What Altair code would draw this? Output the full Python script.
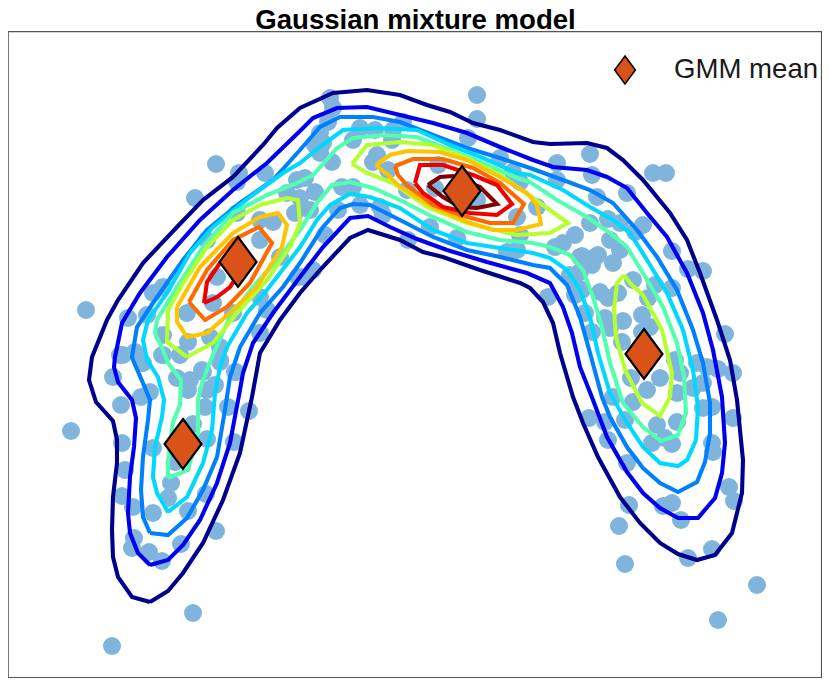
import altair as alt
import pandas as pd

title_text = "Gaussian mixture model"
legend_text = "GMM mean"

points = [
(477,95),(477,119),(216,164),(239,173),(237,182),(265,173),(195,198),(86,310),(287,193),(295,213),(273,222),(260,220),
(237,213),(207,240),(260,240),(280,257),(217,277),(213,303),(267,310),(260,297),(260,333),(233,313),(210,337),(220,347),
(187,313),(163,287),(153,293),(128,318),(147,315),(163,335),(188,342),(163,355),(180,355),(120,355),(135,352),(143,363),
(113,377),(177,378),(203,372),(220,360),(235,372),(298,277),(297,180),(71,431),(121,405),(141,397),(150,392),(122,443),
(125,470),(122,496),(133,507),(153,513),(153,448),(134,538),(132,548),(149,552),(162,561),(181,544),(188,511),(216,531),
(206,494),(171,483),(168,498),(175,462),(207,439),(234,442),(249,411),(228,407),(193,424),(205,407),(188,390),(190,380),
(202,370),(215,385),(207,390),(220,362),(236,372),(193,613),(112,646),(142,363),(123,355),(162,355),
(330,98),(333,108),(328,122),(320,133),(353,140),(360,128),(375,130),(393,130),(403,122),(323,143),(315,145),(320,153),
(332,162),(377,155),(373,162),(392,140),(438,165),(388,170),(305,178),(315,192),(342,187),(353,187),(407,190),(435,188),
(477,200),(300,198),(310,210),(338,210),(360,205),(380,207),(383,215),(325,235),(313,270),(303,277),(408,240),(430,227),
(457,238),(468,138),(500,158),(513,172),(520,182),(537,207),(517,217),(520,235),(507,252),(517,250),(557,163),(557,180),
(590,154),(592,175),(597,197),(590,223),(575,235),(563,243),(555,247),(580,257),(595,257),(570,277),(577,287),(548,297),
(627,193),(653,173),(666,173),(608,219),(620,223),(643,225),(635,232),(610,240),(620,250),(582,256),(598,255),(592,265),
(613,263),(672,251),(688,269),(703,271),(570,275),(580,272),(575,295),(582,290),(600,292),(608,298),(618,293),(633,280),
(655,285),(672,288),(648,298),(642,315),(623,321),(585,313),(605,318),(592,332),(610,328),(650,327),(642,332),(622,342),
(725,334),(675,360),(680,373),(697,363),(707,367),(718,369),(733,373),(660,378),(631,378),(647,390),(677,393),(693,388),
(703,383),(613,397),(633,402),(703,408),(712,407),(733,418),(589,418),(605,422),(625,420),(657,425),(677,422),
(608,440),(627,463),(652,443),(665,438),(672,444),(712,443),(713,452),(729,487),(734,501),(629,505),(619,526),(663,506),
(672,503),(681,520),(712,549),(688,558),(625,564),(757,585),(718,620),
]

navy = [
(150,602),(132,597),(118,577),(113,557),(112,530),(113,497),(117,463),(117,440),(113,421),(96,402),(89,380),(92,357),
(107,320),(118,300),(143,263),(177,227),(203,200),(233,177),(263,145),(277,128),(300,108),(333,93),(367,90),(400,95),
(427,105),(450,112),(473,123),(500,130),(533,142),(550,144),(587,143),(607,148),(623,160),(643,180),(670,213),(687,240),
(700,273),(717,320),(730,360),(737,400),(743,460),(742,493),(732,533),(715,555),(697,560),(678,554),(660,543),(640,523),
(620,497),(598,457),(583,423),(573,397),(560,353),(553,323),(543,302),(530,288),(520,283),(480,270),(443,257),(423,252),
(400,240),(368,230),(350,238),(320,270),(300,293),(280,320),(260,353),(252,397),(240,453),(223,500),(203,543),(183,573),
(168,591),(150,602),
]
blue = [
(150,565),(138,553),(130,533),(128,513),(130,477),(134,447),(136,418),(132,400),(118,382),(114,367),(115,357),(122,323),
(140,293),(167,257),(200,220),(233,190),(267,163),(300,131),(313,118),(337,108),(367,107),(400,115),(433,123),(467,133),
(500,147),(533,160),(553,167),(587,170),(607,177),(627,188),(647,213),(667,237),(687,273),(703,313),(713,350),(722,397),
(725,443),(722,473),(715,498),(698,518),(678,518),(660,508),(643,493),(627,472),(607,437),(593,400),(580,367),(572,333),
(563,307),(550,283),(527,273),(487,262),(447,250),(417,239),(390,227),(368,216),(350,218),(323,247),(300,277),(273,313),
(253,343),(243,373),(240,390),(230,443),(217,483),(200,520),(183,545),(168,560),(150,565),
]
azure = [
(150,533),(143,517),(141,490),(143,457),(148,420),(150,400),(143,383),(133,360),(132,357),(137,327),(153,303),(183,260),
(207,230),(240,203),(273,180),(300,150),(320,127),(340,117),(373,117),(400,122),(433,135),(467,148),(500,158),(530,168),
(563,180),(590,190),(613,203),(637,230),(657,257),(677,290),(693,330),(703,363),(710,403),(710,433),(705,462),(697,482),
(678,492),(660,483),(643,468),(627,447),(610,417),(602,397),(590,353),(580,317),(567,285),(550,268),(533,265),(500,257),
(467,250),(433,237),(400,220),(370,205),(353,204),(340,208),(323,227),(300,263),(283,287),(260,313),(240,347),(230,377),
(225,410),(217,457),(203,490),(187,518),(168,535),(150,533),
]
cyan = [
(168,512),(157,493),(153,477),(155,447),(162,417),(164,400),(158,377),(147,360),(143,340),(148,320),(167,293),(190,253),
(213,227),(250,197),(283,173),(300,163),(320,147),(343,130),(377,128),(417,130),(450,145),(483,158),(517,173),(530,175),
(563,190),(590,207),(613,220),(630,233),(647,260),(667,293),(683,330),(693,370),(698,407),(696,440),(687,460),(678,466),
(660,463),(643,447),(627,423),(610,393),(598,353),(590,317),(580,290),(567,270),(550,258),(533,253),(500,248),(467,243),
(433,230),(400,208),(370,197),(350,194),(330,205),(317,220),(300,247),(267,290),(247,313),(227,347),(220,367),(215,393),
(212,430),(203,463),(187,497),(168,512),
]
aqua = [
(168,478),(168,463),(173,422),(180,405),(181,380),(168,363),(163,350),(155,333),(157,320),(177,287),(203,247),(233,213),
(267,195),(297,183),(313,175),(337,148),(353,138),(383,135),(417,137),(450,150),(483,163),(517,178),(530,182),(557,200),
(587,217),(610,233),(627,247),(643,273),(663,307),(677,343),(684,377),(686,413),(678,435),(661,441),(643,427),(623,403),
(610,363),(602,327),(593,297),(583,270),(570,255),(550,247),(533,243),(500,240),(467,232),(433,217),(400,200),(373,188),
(350,182),(332,185),(317,203),(300,230),(280,257),(253,287),(230,317),(215,350),(208,367),(202,383),(198,400),(198,433),
(188,470),(168,478),
]
lime_left = [
(187,357),(167,342),(168,310),(183,283),(207,247),(233,220),(260,205),(287,198),(298,200),(300,223),(290,247),(267,280),
(237,313),(213,343),(200,350),(187,357),
]
lime_mid = [
(352,164),(367,145),(400,142),(433,145),(467,158),(500,175),(533,198),(568,223),(550,233),(517,235),(467,223),(427,207),
(393,183),(367,173),(352,164),
]
lime_right = [
(624,275),(617,283),(614,310),(616,337),(625,370),(642,403),(660,416),(670,397),(672,373),(662,330),(643,295),(630,283),
(624,275),
]
amber_left = [
(177,307),(177,322),(187,337),(207,333),(230,313),(257,287),(282,247),(287,225),(278,213),(260,217),(233,233),(200,267),
(177,307),
]
amber_mid = [
(376,165),(390,155),(407,151),(440,152),(467,160),(500,177),(527,193),(537,205),(541,224),(517,230),(493,230),(467,222),
(433,207),(400,187),(388,175),(376,165),
]
orange_left = [
(189,302),(205,320),(227,307),(250,283),(272,243),(259,227),(233,240),(207,270),(189,302),
]
orange_mid = [
(395,166),(413,159),(443,159),(473,168),(500,183),(524,204),(513,223),(490,223),(460,215),(433,205),(407,185),(398,175),
(395,166),
]
red_left = [
(204,303),(207,282),(220,263),(238,250),(246,262),(230,287),(217,297),(204,303),
]
red_mid = [
(415,183),(420,165),(443,165),(473,175),(497,185),(512,204),(497,215),(470,213),(443,207),(423,193),(415,183),
]
maroon_mid = [
(428,185),(440,177),(453,176),(480,187),(497,204),(477,208),(460,207),(443,197),(428,185),
]

contours = [
("navy", "#00008f", navy), ("blue", "#0000f0", blue), ("azure", "#0080ff", azure), ("cyan", "#00d8ff", cyan),
("aqua", "#50ffb0", aqua), ("lime", "#b4ff30", lime_left), ("lime", "#b4ff30", lime_mid), ("lime", "#b4ff30", lime_right),
("amber", "#ffc400", amber_left), ("amber", "#ffc400", amber_mid), ("orange", "#ff6a00", orange_left),
("orange", "#ff6a00", orange_mid), ("red", "#ee0000", red_left), ("red", "#ee0000", red_mid),
("maroon", "#800000", maroon_mid),
]
means_x = [238, 462, 644, 183]
means_y = [262, 191, 354, 444]
legend_marker = (625, 70)
legend_label = (674, 70)
title_pos = (415.5, 28.7)

X = alt.Scale(domain=[8, 821.5], nice=False, zero=False)
Y = alt.Scale(domain=[677.5, 31.5], nice=False, zero=False)
DIAMOND = "M0,-1L0.74,0L0,1L-0.74,0Z"

rows = []
for pid, (name, col, path) in enumerate(contours):
    for i, (x, y) in enumerate(path):
        rows.append({"x": x, "y": y, "pid": pid, "i": i, "col": col})
line_df = pd.DataFrame(rows)
pts_df = pd.DataFrame(points, columns=["x", "y"])
means_df = pd.DataFrame({"x": means_x, "y": means_y})

base_x = alt.X("x:Q", scale=X, axis=None)
base_y = alt.Y("y:Q", scale=Y, axis=None)

pts = alt.Chart(pts_df).mark_circle(size=324, color="#7fb5dc", opacity=1).encode(x=base_x, y=base_y)
lines = alt.Chart(line_df).mark_line(strokeWidth=4.1, strokeJoin="miter", strokeMiterLimit=10).encode(
    x=base_x, y=base_y, detail="pid:N", order="i:Q", color=alt.Color("col:N", scale=None))
means = alt.Chart(means_df).mark_point(shape=DIAMOND, size=2500, filled=True, fill="#d95319", stroke="black",
                                       strokeWidth=2.2, opacity=1).encode(x=base_x, y=base_y)
leg_m = alt.Chart(pd.DataFrame({"x": [legend_marker[0]], "y": [legend_marker[1]]})).mark_point(
    shape=DIAMOND, size=784, filled=True, fill="#d95319", stroke="black", strokeWidth=1.6, opacity=1).encode(x=base_x, y=base_y)
leg_t = alt.Chart(pd.DataFrame({"x": [legend_label[0]], "y": [legend_label[1]], "t": [legend_text]})).mark_text(
    align="left", baseline="middle", font="Liberation Sans", fontSize=27.6, color="#1a1a1a").encode(x=base_x, y=base_y, text="t:N")
ttl = alt.Chart(pd.DataFrame({"x": [title_pos[0]], "y": [title_pos[1]], "t": [title_text]})).mark_text(
    align="center", baseline="alphabetic", font="Liberation Sans", fontSize=27.6, fontWeight="bold", color="black").encode(
    x=base_x, y=base_y, text="t:N")

chart = alt.layer(pts, lines, means, leg_m, leg_t, ttl).properties(
    width=813.5, height=646,
    padding={"left": 0, "top": 23.5, "right": 0, "bottom": 0},
    autosize=alt.AutoSizeParams(type="none"),
).configure_view(stroke="#555555", strokeWidth=1.4)

chart.save("out.html", embed_options={"renderer": "svg", "actions": False})
